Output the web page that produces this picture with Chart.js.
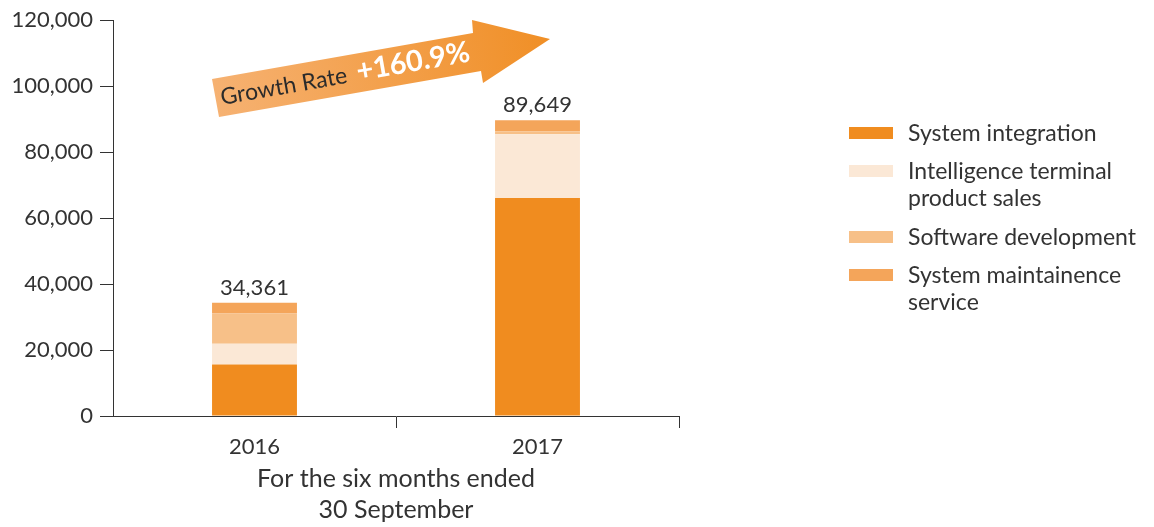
<!DOCTYPE html>
<html>
<head>
<meta charset="utf-8">
<script src="https://cdn.jsdelivr.net/npm/chart.js@4.4.0/dist/chart.umd.min.js"></script>
<style>
  html, body { margin: 0; padding: 0; background: #fff; }
  #wrap { width: 1154px; height: 527px; }
</style>
</head>
<body>
<div id="wrap"><canvas id="revenue-chart" width="1154" height="527"></canvas></div>
<script>
// categories and series
const categories = ['2016', '2017'];
const seriesLabels = [
    ['System integration'],
    ['Intelligence terminal', 'product sales'],
    ['Software development'],
    ['System maintainence', 'service']
];
const systemIntegration = [15600, 66100];
const intelligenceTerminal = [6300, 19300];
const softwareDevelopment = [9200, 900];
const maintenanceService = [3261, 3349];
const yTicks = [0, 20000, 40000, 60000, 80000, 100000, 120000];
const growthLabel = 'Growth Rate';
const growthValue = '+160.9%';
const xTitle = ['For the six months ended', '30 September'];

const colors = ['#F08C1F', '#FBE8D6', '#F7C088', '#F4A55A'];
const textColor = '#333333';
const fontFamily = 'Lato, "Open Sans", sans-serif';

const fmt = v => v.toLocaleString('en-US');

// legend on the right (drawn on canvas)
const sideLegend = {
    id: 'sideLegend',
    afterDraw(chart) {
        const ctx = chart.ctx;
        const swatchX = 849, textX = 908;
        const rowY = [133, 171, 237, 275];
        ctx.save();
        ctx.font = '23px ' + fontFamily;
        ctx.textBaseline = 'middle';
        chart.data.datasets.forEach((ds, i) => {
            ctx.fillStyle = ds.backgroundColor;
            ctx.fillRect(swatchX, rowY[i] - 6, 44, 12);
            ctx.fillStyle = textColor;
            seriesLabels[i].forEach((line, j) => {
                ctx.fillText(line, textX, rowY[i] + 1 + j * 27);
            });
        });
        ctx.restore();
    }
};

// totals above each stack
const totalLabels = {
    id: 'totalLabels',
    afterDatasetsDraw(chart) {
        const ctx = chart.ctx;
        const last = chart.getDatasetMeta(chart.data.datasets.length - 1);
        ctx.save();
        ctx.font = '22px ' + fontFamily;
        ctx.fillStyle = textColor;
        ctx.textAlign = 'center';
        ctx.textBaseline = 'alphabetic';
        categories.forEach((c, i) => {
            const total = chart.data.datasets.reduce((s, ds) => s + ds.data[i], 0);
            const bar = last.data[i];
            ctx.fillText(fmt(total), bar.x, bar.y - 8);
        });
        ctx.restore();
    }
};

// the growth arrow
const growthArrow = {
    id: 'growthArrow',
    afterDraw(chart) {
        const ctx = chart.ctx;
        ctx.save();
        const g = ctx.createLinearGradient(212, 100, 550, 40);
        g.addColorStop(0, '#F6B273');
        g.addColorStop(1, '#F08F26');
        ctx.fillStyle = g;
        ctx.beginPath();
        ctx.moveTo(219, 117);
        ctx.lineTo(212, 79);
        ctx.lineTo(473, 33);
        ctx.lineTo(472, 20);
        ctx.lineTo(550, 39);
        ctx.lineTo(483, 83);
        ctx.lineTo(481, 71);
        ctx.closePath();
        ctx.fill();

        ctx.translate(222, 105);
        ctx.rotate(Math.atan2(-46, 261));
        ctx.textBaseline = 'alphabetic';
        ctx.fillStyle = '#2b2b2b';
        ctx.font = '23px ' + fontFamily;
        ctx.fillText(growthLabel, 0, 0);
        const w = ctx.measureText(growthLabel).width;
        ctx.fillStyle = '#ffffff';
        ctx.font = 'bold 29px ' + fontFamily;
        ctx.fillText(growthValue, w + 10, 0);
        ctx.restore();
    }
};

const datasets = [systemIntegration, intelligenceTerminal, softwareDevelopment, maintenanceService]
    .map((data, i) => ({
        label: seriesLabels[i].join(' '),
        data: data,
        backgroundColor: colors[i],
        borderWidth: 0,
        barPercentage: 0.3,
        categoryPercentage: 1
    }));

const ctx = document.getElementById('revenue-chart').getContext('2d');
new Chart(ctx, {
    type: 'bar',
    data: { labels: categories, datasets: datasets },
    options: {
        responsive: false,
        animation: false,
        layout: { padding: { top: 20, right: 475, left: 0, bottom: 0 } },
        plugins: {
            legend: { display: false },
            tooltip: { enabled: false }
        },
        scales: {
            x: {
                stacked: true,
                afterFit: s => { s.height = 111; },
                grid: {
                    offset: true,
                    drawOnChartArea: false,
                    tickLength: 12,
                    color: c => c.index === 0 ? 'rgba(0,0,0,0)' : '#333'
                },
                border: { display: true, color: '#333', width: 1 },
                ticks: {
                    color: textColor,
                    padding: 6,
                    font: { family: fontFamily, size: 22 }
                },
                title: {
                    display: true,
                    text: xTitle,
                    color: textColor,
                    padding: { top: 0, bottom: 2 },
                    font: { family: fontFamily, size: 25, lineHeight: 1.24 }
                }
            },
            y: {
                stacked: true,
                min: 0,
                max: 120000,
                afterFit: s => { s.width = 113; },
                afterBuildTicks: s => { s.ticks = yTicks.map(v => ({ value: v })); },
                grid: {
                    drawOnChartArea: false,
                    tickLength: 13,
                    color: '#333'
                },
                border: { display: true, color: '#333', width: 1 },
                ticks: {
                    color: textColor,
                    padding: 7,
                    font: { family: fontFamily, size: 22 },
                    callback: v => fmt(v)
                }
            }
        }
    },
    plugins: [totalLabels, growthArrow, sideLegend]
});
</script>
</body>
</html>
